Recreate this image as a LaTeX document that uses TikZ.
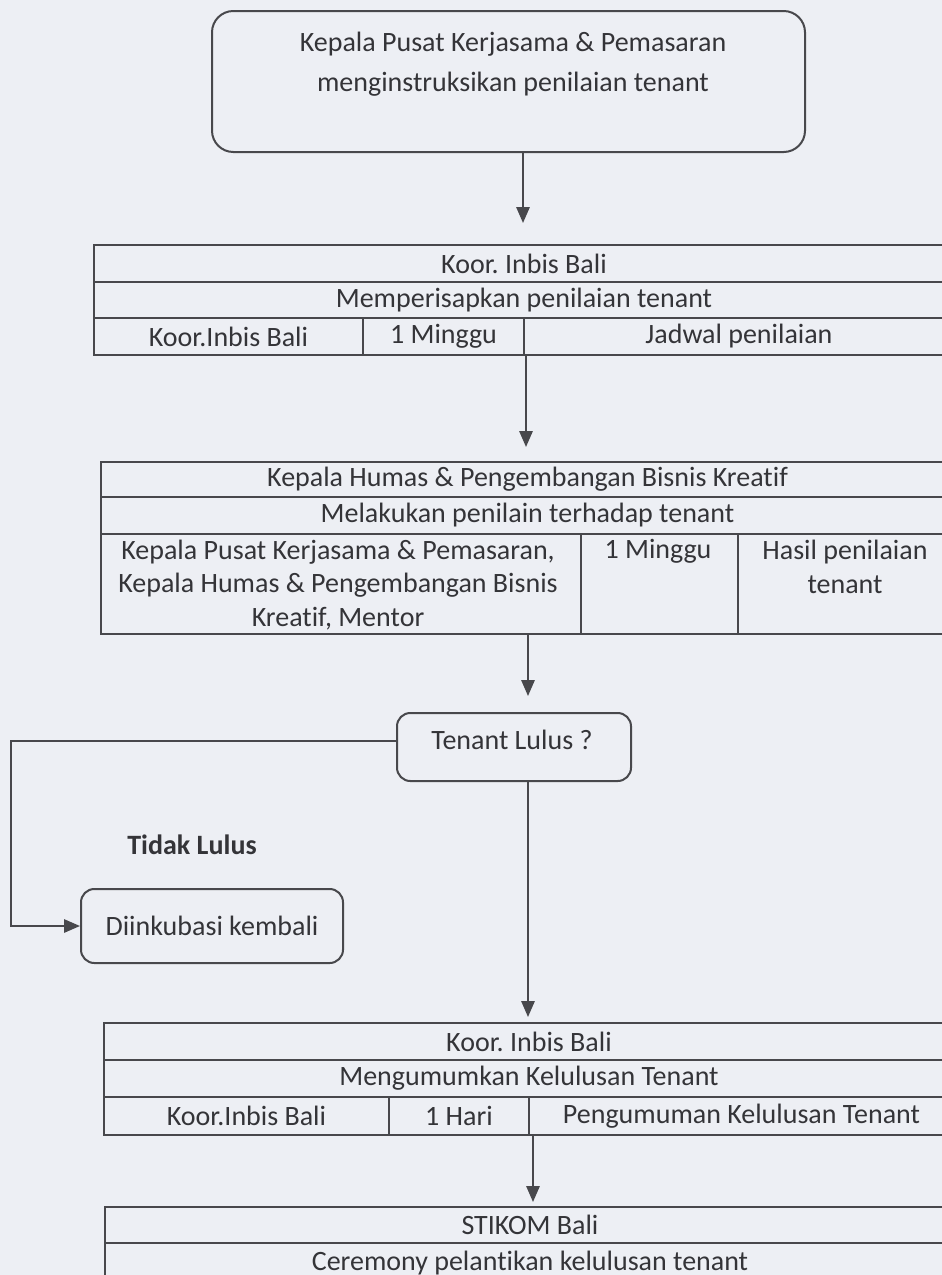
\documentclass[tikz,border=0pt]{standalone}
\usepackage{fontspec}
\setmainfont{Carlito}[Ligatures={NoCommon}]
\usetikzlibrary{arrows.meta,calc}
\definecolor{bgc}{RGB}{237,239,244}
\definecolor{lnc}{RGB}{72,72,76}
\definecolor{txc}{RGB}{52,52,56}
\newcommand\upx{0.75pt}
\newcommand\fsz{\fontsize{21}{25}\selectfont}
\frenchspacing
\begin{document}
\begin{tikzpicture}[x=0.75pt,y=-0.75pt,
  every node/.style={font=\fsz, text=txc},
  cellbox/.style={draw=lnc, line width=1.5pt, anchor=north west, inner sep=0pt},
  rbox/.style={cellbox, rounded corners=#1},
  conn/.style={draw=lnc, line width=1.5pt},
  arr/.style={conn, -{Triangle[length=12pt,width=10pt]}}]
\clip (0,0) rectangle (942,1275);
\fill[bgc] (0,0) rectangle (942,1275);

% spine x-positions
\coordinate (sa) at (523,0);
\coordinate (sb) at (526,0);
\coordinate (sc) at (528,0);
\coordinate (sd) at (533,0);
\coordinate (lx) at (11,0);

% top box
\node[rbox=16pt, minimum width=593*\upx, minimum height=141*\upx] (top) at (211,10) {};
\node[align=center, font=\fontsize{21}{30}\selectfont] (toptxt) at (513,64) {Kepala Pusat Kerjasama \& Pemasaran\\menginstruksikan penilaian tenant};

% table 1
\node[cellbox, minimum width=860*\upx, minimum height=37*\upx] (t1a) at (93,244) {Koor. Inbis Bali};
\node[cellbox, minimum width=860*\upx, minimum height=36*\upx] (t1b) at (93,281) {Memperisapkan penilaian tenant};
\node[cellbox, minimum width=269*\upx, minimum height=37*\upx] (t1c) at (93,317) {Koor.Inbis Bali};
\node[cellbox, minimum width=161*\upx, minimum height=37*\upx] (t1d) at (362,317) {1 Minggu};
\node[cellbox, minimum width=430*\upx, minimum height=37*\upx] (t1e) at (523,317) {Jadwal penilaian};

% table 2
\node[cellbox, minimum width=853*\upx, minimum height=35*\upx] (t2a) at (100,461) {Kepala Humas \& Pengembangan Bisnis Kreatif};
\node[cellbox, minimum width=853*\upx, minimum height=37*\upx] (t2b) at (100,496) {Melakukan penilain terhadap tenant};
\node[cellbox, minimum width=480*\upx, minimum height=100*\upx] (t2c) at (100,533) {};
\node[cellbox, minimum width=157*\upx, minimum height=100*\upx] (t2d) at (580,533) {};
\node[cellbox, minimum width=216*\upx, minimum height=100*\upx] (t2e) at (737,533) {};
\node[align=center] (t2ctxt) at (338,585) {Kepala Pusat Kerjasama \& Pemasaran,\\Kepala Humas \& Pengembangan Bisnis\\Kreatif, Mentor};
\node (t2dtxt) at (658,551) {1 Minggu};
\node[align=center] (t2etxt) at (845,567) {Hasil penilaian\\tenant};

% decision
\node[rbox=10pt, minimum width=234*\upx, minimum height=68*\upx] (dec) at (396,712) {};
\node (dectxt) at (512,740) {Tenant Lulus ?};
\coordinate (decw) at ($(dec.north west)!0.41!(dec.south west)$);

% not passed
\node[rbox=10pt, minimum width=262*\upx, minimum height=74*\upx] (di) at (80,888) {Diinkubasi kembali};
\node[font=\fsz\bfseries] (tl) at (192,845) {Tidak Lulus};

% table 3
\node[cellbox, minimum width=850*\upx, minimum height=37*\upx] (t3a) at (103,1022) {Koor. Inbis Bali};
\node[cellbox, minimum width=850*\upx, minimum height=37*\upx] (t3b) at (103,1059) {Mengumumkan Kelulusan Tenant};
\node[cellbox, minimum width=285*\upx, minimum height=38*\upx] (t3c) at (103,1096) {Koor.Inbis Bali};
\node[cellbox, minimum width=140*\upx, minimum height=38*\upx] (t3d) at (388,1096) {1 Hari};
\node[cellbox, minimum width=425*\upx, minimum height=38*\upx] (t3e) at (528,1096) {Pengumuman Kelulusan Tenant};

% table 4
\node[cellbox, minimum width=850*\upx, minimum height=36*\upx] (t4a) at (104,1206) {STIKOM Bali};
\node[cellbox, minimum width=850*\upx, minimum height=40*\upx] (t4b) at (104,1242) {Ceremony pelantikan kelulusan tenant};

% connectors
\draw[arr, shorten >=21*\upx] (sa |- top.south) -- (sa |- t1a.north);
\draw[arr, shorten >=14*\upx] (sb |- t1c.south) -- (sb |- t2a.north);
\draw[arr, shorten >=16*\upx] (sc |- t2c.south) -- (sc |- dec.north);
\draw[arr] (decw) -- (decw -| lx) |- (di.west);
\draw[arr, shorten >=5*\upx] (sc |- dec.south) -- (sc |- t3a.north);
\draw[arr, shorten >=4*\upx] (sd |- t3c.south) -- (sd |- t4a.north);
\end{tikzpicture}
\end{document}
